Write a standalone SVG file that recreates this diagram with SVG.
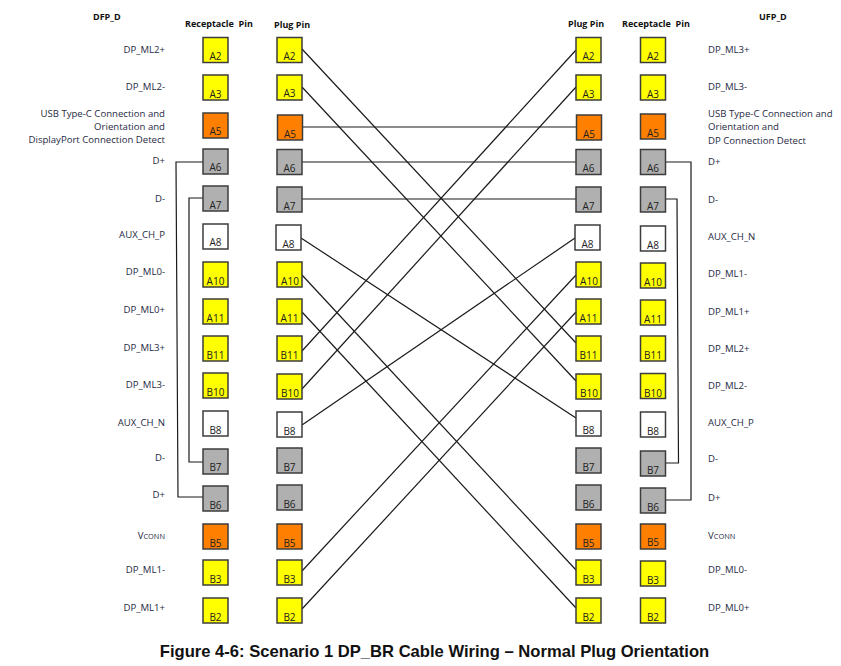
<svg xmlns="http://www.w3.org/2000/svg" width="841" height="666" viewBox="0 0 841 666">
<style>
text{font-family:"Open Sans","Liberation Sans",sans-serif;font-size:9.6px;fill:#1f2a44}
.h{font-weight:700;fill:#111;font-size:9px;white-space:pre}
.e{text-anchor:end}
.p{text-anchor:middle;fill:#222;font-size:10px}
rect{stroke:#3c3c3c;stroke-width:1.5}
.y{fill:#ff0}.o{fill:#ff8000}.g{fill:#b0b0b0}.w{fill:#fff}
#connectors path{fill:none;stroke:#1a1a1a;stroke-width:1.2}
.t{font-family:"Liberation Sans",Arial,sans-serif;font-weight:700;font-size:16.6px;fill:#111;text-anchor:middle}
</style>
<rect width="841" height="666" style="fill:#fff;stroke:none"/>
<g id="labels">
<text class="h" x="93" y="20">DFP_D</text><text class="h" x="185" y="27">Receptacle  Pin</text><text class="h" x="274" y="28">Plug Pin</text>
<text class="h" x="568" y="27">Plug Pin</text><text class="h" x="622" y="27">Receptacle  Pin</text><text class="h" x="759" y="20">UFP_D</text>
<text class="e" x="165" y="53">DP_ML2+</text><text class="e" x="165" y="90">DP_ML2-</text>
<text class="e" x="165" y="117">USB Type-C Connection and</text><text class="e" x="165" y="130">Orientation and</text><text class="e" x="165" y="143">DisplayPort Connection Detect</text>
<text class="e" x="165" y="164">D+</text><text class="e" x="165" y="202">D-</text><text class="e" x="165" y="238">AUX_CH_P</text><text class="e" x="165" y="275">DP_ML0-</text><text class="e" x="165" y="313">DP_ML0+</text><text class="e" x="165" y="351">DP_ML3+</text><text class="e" x="165" y="388">DP_ML3-</text><text class="e" x="165" y="426">AUX_CH_N</text><text class="e" x="165" y="461">D-</text><text class="e" x="165" y="498">D+</text>
<text class="e" x="165" y="539">V<tspan font-size="7.4">CONN</tspan></text><text class="e" x="165" y="573">DP_ML1-</text><text class="e" x="165" y="611">DP_ML1+</text>
<text x="708" y="53">DP_ML3+</text><text x="708" y="90">DP_ML3-</text><text x="708" y="117">USB Type-C Connection and</text><text x="708" y="130">Orientation and</text><text x="708" y="144">DP Connection Detect</text>
<text x="708" y="165">D+</text><text x="708" y="203">D-</text><text x="708" y="240">AUX_CH_N</text><text x="708" y="277">DP_ML1-</text><text x="708" y="315">DP_ML1+</text><text x="708" y="352">DP_ML2+</text><text x="708" y="389">DP_ML2-</text><text x="708" y="426">AUX_CH_P</text><text x="708" y="462">D-</text><text x="708" y="501">D+</text>
<text x="708" y="539">V<tspan font-size="7.4">CONN</tspan></text><text x="708" y="573">DP_ML0-</text><text x="708" y="611">DP_ML0+</text>
<text class="t" x="434.500" y="657">Figure 4-6: Scenario 1 DP_BR Cable Wiring – Normal Plug Orientation</text>
</g>
<g id="connectors">
<path d="M302 49L576 343"/><path d="M302 87L576 381"/><path d="M302 127H576"/><path d="M302 162H576"/><path d="M302 199H576"/>
<path d="M301 238L576 418"/><path d="M302 275L576 570"/><path d="M302 312L576 608"/>
<path d="M302 351L576 50"/><path d="M302 389L576 87"/><path d="M302 425L575 238"/><path d="M302 571L576 275"/><path d="M302 609L576 312"/>
<path d="M203 162H176L178 497H203"/><path d="M203 198H189V462H203"/>
<path d="M666 162H691V500H666"/><path d="M666 199H677L678.500 463H666"/>
</g>
<g id="n-l-a2"><rect class="y" x="203" y="37.500" width="25" height="25"/><text class="p" x="215.500" y="60">A2</text></g>
<g id="n-l-a3"><rect class="y" x="203" y="75" width="25" height="25"/><text class="p" x="215.500" y="98">A3</text></g>
<g id="n-l-a5"><rect class="o" x="203" y="113" width="25" height="25"/><text class="p" x="215.500" y="135">A5</text></g>
<g id="n-l-a6"><rect class="g" x="203" y="149" width="25" height="25"/><text class="p" x="215.500" y="171">A6</text></g>
<g id="n-l-a7"><rect class="g" x="203" y="186" width="25" height="25"/><text class="p" x="215.500" y="209">A7</text></g>
<g id="n-l-a8"><rect class="w" x="203" y="224" width="25" height="25"/><text class="p" x="215.500" y="246">A8</text></g>
<g id="n-l-a10"><rect class="y" x="203" y="262" width="25" height="25"/><text class="p" x="215.500" y="285">A10</text></g>
<g id="n-l-a11"><rect class="y" x="203" y="299" width="25" height="25"/><text class="p" x="215.500" y="322">A11</text></g>
<g id="n-l-b11"><rect class="y" x="203" y="336" width="25" height="25"/><text class="p" x="215.500" y="359">B11</text></g>
<g id="n-l-b10"><rect class="y" x="203" y="373" width="25" height="25"/><text class="p" x="215.500" y="396">B10</text></g>
<g id="n-l-b8"><rect class="w" x="203" y="411" width="25" height="25"/><text class="p" x="215.500" y="434">B8</text></g>
<g id="n-l-b7"><rect class="g" x="203" y="449" width="25" height="25"/><text class="p" x="215.500" y="471">B7</text></g>
<g id="n-l-b6"><rect class="g" x="203" y="486" width="25" height="25"/><text class="p" x="215.500" y="509">B6</text></g>
<g id="n-l-b5"><rect class="o" x="203" y="524" width="25" height="25"/><text class="p" x="215.500" y="547">B5</text></g>
<g id="n-l-b3"><rect class="y" x="203" y="560" width="25" height="25"/><text class="p" x="215.500" y="583">B3</text></g>
<g id="n-l-b2"><rect class="y" x="203" y="598" width="25" height="25"/><text class="p" x="215.500" y="621">B2</text></g>
<g id="n-lp-a2"><rect class="y" x="277" y="37.500" width="25" height="25"/><text class="p" x="289.500" y="60">A2</text></g>
<g id="n-lp-a3"><rect class="y" x="277" y="75" width="25" height="25"/><text class="p" x="289.500" y="97">A3</text></g>
<g id="n-lp-a5"><rect class="o" x="277.500" y="115" width="25" height="25"/><text class="p" x="290" y="138">A5</text></g>
<g id="n-lp-a6"><rect class="g" x="277" y="149.500" width="25" height="25"/><text class="p" x="289.500" y="172">A6</text></g>
<g id="n-lp-a7"><rect class="g" x="277" y="187" width="25" height="25"/><text class="p" x="289.500" y="210">A7</text></g>
<g id="n-lp-a8"><rect class="w" x="276" y="225" width="25" height="25"/><text class="p" x="288.500" y="248">A8</text></g>
<g id="n-lp-a10"><rect class="y" x="277" y="262" width="25" height="25"/><text class="p" x="290" y="285">A10</text></g>
<g id="n-lp-a11"><rect class="y" x="277" y="299" width="25" height="25"/><text class="p" x="289.500" y="322">A11</text></g>
<g id="n-lp-b11"><rect class="y" x="277" y="336" width="25" height="25"/><text class="p" x="289.500" y="359">B11</text></g>
<g id="n-lp-b10"><rect class="y" x="277" y="374" width="25" height="25"/><text class="p" x="290" y="397">B10</text></g>
<g id="n-lp-b8"><rect class="w" x="277" y="412" width="25" height="25"/><text class="p" x="289.500" y="435">B8</text></g>
<g id="n-lp-b7"><rect class="g" x="277" y="448" width="25" height="25"/><text class="p" x="289.500" y="471">B7</text></g>
<g id="n-lp-b6"><rect class="g" x="277" y="485" width="25" height="25"/><text class="p" x="289.500" y="508">B6</text></g>
<g id="n-lp-b5"><rect class="o" x="277" y="524" width="25" height="25"/><text class="p" x="289.500" y="547">B5</text></g>
<g id="n-lp-b3"><rect class="y" x="277" y="560" width="25" height="25"/><text class="p" x="289.500" y="583">B3</text></g>
<g id="n-lp-b2"><rect class="y" x="277" y="598" width="25" height="25"/><text class="p" x="289.500" y="621">B2</text></g>
<g id="n-rp-a2"><rect class="y" x="576" y="37.500" width="25" height="25"/><text class="p" x="588.500" y="60">A2</text></g>
<g id="n-rp-a3"><rect class="y" x="576" y="75" width="25" height="25"/><text class="p" x="588.500" y="98">A3</text></g>
<g id="n-rp-a5"><rect class="o" x="576.500" y="115" width="25" height="25"/><text class="p" x="589" y="138">A5</text></g>
<g id="n-rp-a6"><rect class="g" x="576" y="149.500" width="25" height="25"/><text class="p" x="588.500" y="172">A6</text></g>
<g id="n-rp-a7"><rect class="g" x="576" y="187" width="25" height="25"/><text class="p" x="588.500" y="210">A7</text></g>
<g id="n-rp-a8"><rect class="w" x="575" y="225" width="25" height="25"/><text class="p" x="587.500" y="248">A8</text></g>
<g id="n-rp-a10"><rect class="y" x="576" y="262" width="25" height="25"/><text class="p" x="589" y="285">A10</text></g>
<g id="n-rp-a11"><rect class="y" x="576" y="299" width="25" height="25"/><text class="p" x="588.500" y="322">A11</text></g>
<g id="n-rp-b11"><rect class="y" x="576" y="336" width="25" height="25"/><text class="p" x="588.500" y="359">B11</text></g>
<g id="n-rp-b10"><rect class="y" x="576" y="374" width="25" height="25"/><text class="p" x="589" y="397">B10</text></g>
<g id="n-rp-b8"><rect class="w" x="576" y="411" width="25" height="25"/><text class="p" x="588.500" y="434">B8</text></g>
<g id="n-rp-b7"><rect class="g" x="576" y="448" width="25" height="25"/><text class="p" x="588.500" y="471">B7</text></g>
<g id="n-rp-b6"><rect class="g" x="576" y="485" width="25" height="25"/><text class="p" x="588.500" y="508">B6</text></g>
<g id="n-rp-b5"><rect class="o" x="576" y="524" width="25" height="25"/><text class="p" x="588.500" y="547">B5</text></g>
<g id="n-rp-b3"><rect class="y" x="576" y="560" width="25" height="25"/><text class="p" x="588.500" y="583">B3</text></g>
<g id="n-rp-b2"><rect class="y" x="576" y="598" width="25" height="25"/><text class="p" x="588.500" y="621">B2</text></g>
<g id="n-r-a2"><rect class="y" x="640.500" y="37.500" width="25" height="25"/><text class="p" x="653" y="60">A2</text></g>
<g id="n-r-a3"><rect class="y" x="640.500" y="75" width="25" height="25"/><text class="p" x="653" y="98">A3</text></g>
<g id="n-r-a5"><rect class="o" x="640.500" y="114" width="25" height="25"/><text class="p" x="653" y="137">A5</text></g>
<g id="n-r-a6"><rect class="g" x="640.500" y="149.500" width="25" height="25"/><text class="p" x="653" y="172">A6</text></g>
<g id="n-r-a7"><rect class="g" x="640.500" y="187" width="25" height="25"/><text class="p" x="653" y="210">A7</text></g>
<g id="n-r-a8"><rect class="w" x="640.500" y="226" width="25" height="25"/><text class="p" x="653" y="249">A8</text></g>
<g id="n-r-a10"><rect class="y" x="640.500" y="263" width="25" height="25"/><text class="p" x="653" y="286">A10</text></g>
<g id="n-r-a11"><rect class="y" x="640.500" y="300" width="25" height="25"/><text class="p" x="653" y="323">A11</text></g>
<g id="n-r-b11"><rect class="y" x="640.500" y="336" width="25" height="25"/><text class="p" x="653" y="359">B11</text></g>
<g id="n-r-b10"><rect class="y" x="640.500" y="373.500" width="25" height="25"/><text class="p" x="653" y="397">B10</text></g>
<g id="n-r-b8"><rect class="w" x="640.500" y="412" width="25" height="25"/><text class="p" x="653" y="435">B8</text></g>
<g id="n-r-b7"><rect class="g" x="640.500" y="451" width="25" height="25"/><text class="p" x="653" y="474">B7</text></g>
<g id="n-r-b6"><rect class="g" x="640.500" y="488" width="25" height="25"/><text class="p" x="653" y="511">B6</text></g>
<g id="n-r-b5"><rect class="o" x="640.500" y="524" width="25" height="25"/><text class="p" x="653" y="546">B5</text></g>
<g id="n-r-b3"><rect class="y" x="640.500" y="561" width="25" height="25"/><text class="p" x="653" y="584">B3</text></g>
<g id="n-r-b2"><rect class="y" x="640.500" y="598" width="25" height="25"/><text class="p" x="653" y="621">B2</text></g>
</svg>
